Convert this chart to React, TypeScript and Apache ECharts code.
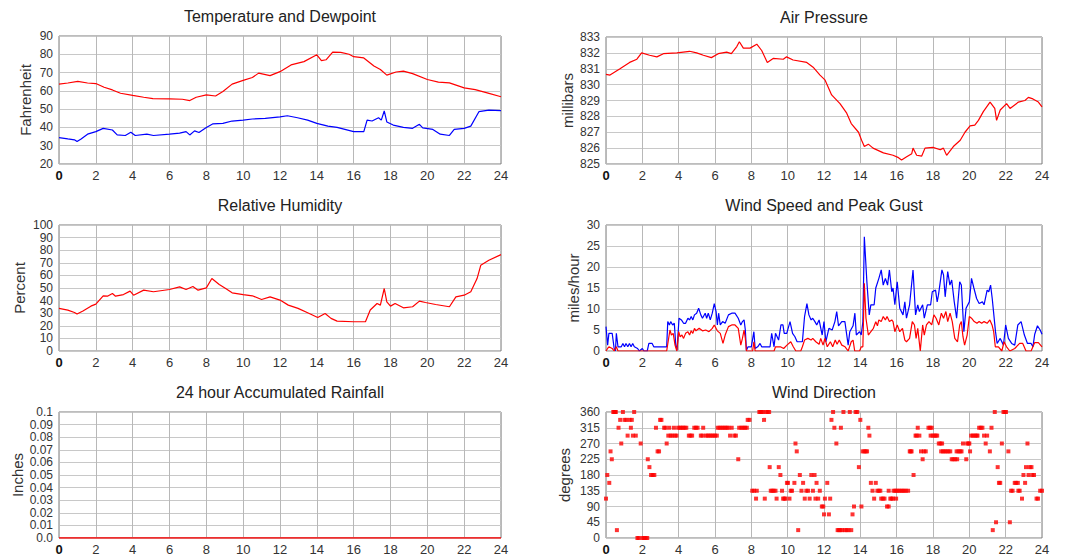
import React, { useEffect, useRef } from "react";
import * as echarts from "echarts";

// ---------- Data (hours since midnight) ----------
const tempHours = [0,0.48,1.02,1.55,2,2.45,2.9,3.34,4,4.6,5.1,6,6.7,7.1,7.45,8,8.5,8.9,9.4,10,10.5,10.84,11.46,12,12.6,13.3,14,14.25,14.5,14.86,15.3,15.75,16,16.55,17.1,17.45,17.8,18.3,18.7,19.2,20,20.6,21.2,22,22.6,23.3,24];
const tempF = [63.7,64.3,65.2,64.3,64,62,60.5,58.7,57.5,56.5,55.8,55.6,55.4,54.7,56.5,57.8,57.2,59.6,63.7,65.7,67.3,69.7,68.3,70.5,74.2,76,79.7,76.5,77,81.2,81,80,78.7,78,73.6,71.7,68.6,70.3,70.8,69.4,66.2,64.8,64.4,61.6,60.7,58.8,56.8];

const dewHours = [0,0.48,0.84,0.98,1.2,1.55,2,2.4,2.9,3.16,3.6,3.9,4.14,4.77,5.13,6,6.55,6.9,7.1,7.36,7.6,8,8.34,8.9,9.4,10,10.5,11.2,12,12.4,12.95,13.5,14,14.6,15.1,16,16.55,16.73,17,17.35,17.5,17.66,17.8,18.15,18.7,19.2,19.57,19.75,20.3,20.7,21.2,21.46,22,22.36,22.8,23.34,24];
const dewF = [34.4,33.7,33.2,32.3,33.7,36.3,37.7,39.5,38.6,35.9,35.6,37.4,35.6,36.3,35.6,36.3,36.9,37.7,35.9,38.1,37.2,40,41.9,42.2,43.5,44,44.6,44.9,45.8,46.4,45.3,44,42.2,40.7,40,37.7,37.7,44,43.5,45.3,44,49,43,41.3,40,39.5,41.7,39.8,38.9,36.3,35.6,38.9,39.5,40.7,48.6,49.5,49.2];

const pressHours = [0,0.22,0.77,1.3,1.7,1.96,2.4,2.8,3.16,3.9,4.6,4.99,5.36,5.8,6.18,6.64,6.9,7.2,7.34,7.56,7.93,8.3,8.57,8.88,9.2,9.76,9.94,10.3,11.05,11.4,11.78,12.05,12.42,12.88,13.25,13.5,13.9,14.07,14.22,14.44,14.7,15.27,15.8,16.1,16.27,16.55,16.83,16.9,17.1,17.38,17.56,18,18.4,18.57,18.75,19.12,19.5,19.76,20.04,20.3,20.5,20.77,21.14,21.4,21.5,21.7,22.05,22.24,22.7,23.06,23.25,23.5,23.8,24];
const pressMb = [830.65,830.6,831,831.4,831.6,832,831.85,831.75,831.95,832,832.1,832,831.85,831.7,831.95,832.05,831.95,832.4,832.7,832.3,832.3,832.55,832.15,831.4,831.65,831.6,831.75,831.55,831.4,831.1,830.6,830.3,829.35,828.8,828.2,827.55,827,826.5,826.1,826.25,826,825.7,825.55,825.4,825.25,825.45,825.65,826,825.55,825.5,826,826.05,825.9,826,825.55,826.1,826.5,827,827.4,827.45,827.75,828.3,828.9,828.5,827.75,828.4,828.8,828.5,828.9,829,829.2,829.1,828.9,828.6];

const rhHours = [0,0.48,0.84,0.98,1.3,1.73,2,2.4,2.63,2.9,3.07,3.5,3.86,4.05,4.6,5.13,6,6.55,6.9,7.27,7.55,8,8.3,8.7,9.05,9.4,10,10.5,11,11.46,12,12.45,12.98,13.5,14.05,14.45,14.77,15.1,16,16.64,16.9,17.27,17.45,17.66,17.8,18,18.25,18.7,19.2,19.57,19.9,20.45,21.2,21.55,22,22.36,22.7,22.9,23.34,24];
const rhPct = [33.8,32.4,30.6,29.3,31.7,35.6,37.2,43.8,43.5,45.6,43.5,44.8,47.5,44.3,48.3,47,48.8,50.9,48.8,51.2,48.3,50.1,57.5,52.8,49.6,46.2,44.8,43.8,40.9,43,40.4,36.4,33.8,30.3,26.6,29.8,25.9,23.7,23.2,23.2,32.5,37.7,36.4,49.6,39,35.6,37.7,34.3,35.1,39.6,38.5,36.9,35.1,43,44.3,47,57.5,68,72,76.5];

// [hour, mph]
const gustMph = [[0,5.8],[0.09,1.4],[0.16,4.2],[0.34,4.2],[0.45,0.6],[0.52,0],[0.57,4.2],[0.66,1],[0.84,1],[0.93,1.8],[1.02,1],[1.1,1.8],[1.2,1],[1.29,1.8],[1.38,1],[1.47,1.8],[1.56,1],[1.74,0.6],[1.83,0],[2,0.6],[2.09,0],[2.27,0],[2.36,1.8],[2.54,1.8],[2.63,1],[3.34,1],[3.4,7],[3.49,6.2],[3.56,7],[3.67,6.2],[3.76,6.6],[3.84,1.4],[3.91,0.2],[4.02,7.8],[4.15,7.4],[4.27,6.6],[4.38,6.6],[4.51,7.8],[4.6,7.4],[4.69,8.2],[4.78,7.4],[4.87,8.6],[4.99,9],[5.1,10.2],[5.22,8.6],[5.31,7.8],[5.46,9],[5.54,7.8],[5.63,9],[5.74,7.4],[5.85,9],[5.96,11.3],[6.06,9.4],[6.13,6.2],[6.2,9],[6.29,6.2],[6.42,7],[6.56,6.6],[6.74,8.6],[6.92,9],[7.1,9],[7.28,7.8],[7.42,6.2],[7.51,7],[7.6,7.4],[7.67,5],[7.73,0.2],[7.82,1],[8,1],[8.14,4.6],[8.21,0.6],[8.35,1],[8.48,1.8],[8.57,1],[9.03,1],[9.12,4.2],[9.25,1],[9.33,4.2],[9.42,3.4],[9.5,2.6],[9.63,6.2],[9.74,6.2],[9.81,4.2],[9.95,4.2],[10.13,7],[10.27,4.2],[10.4,3.4],[10.52,2.2],[10.81,2.2],[10.93,8.2],[11.06,11.3],[11.17,8.6],[11.29,7.4],[11.38,7.8],[11.5,7],[11.6,6.2],[11.73,7.4],[11.9,3.8],[12,7],[12.1,2.2],[12.27,5.4],[12.45,5],[12.6,7],[12.7,9.4],[12.8,6],[12.98,7],[13.15,7],[13.33,1.4],[13.42,4.6],[13.6,6],[13.7,9],[13.78,3.8],[13.96,4.6],[14.05,3.8],[14.14,7],[14.22,27.2],[14.36,16.5],[14.49,8.6],[14.58,11],[14.76,11],[14.85,15],[15.02,17.3],[15.15,19.3],[15.26,15.7],[15.38,17.3],[15.5,15.7],[15.6,19.3],[15.73,14.1],[15.8,15],[15.9,11],[16.03,16.5],[16.17,10.2],[16.35,8.6],[16.45,11.7],[16.54,7.8],[16.71,11],[16.9,19.3],[17.04,8.6],[17.16,11],[17.25,9.4],[17.43,11],[17.52,7.8],[17.69,11],[17.87,11],[17.96,14.1],[18.14,14.5],[18.23,11.7],[18.3,13.3],[18.49,19.3],[18.58,18.1],[18.67,12.9],[18.81,18.9],[18.93,15.7],[19.03,16.9],[19.17,11.7],[19.3,7.8],[19.47,16.5],[19.56,15.7],[19.7,4.6],[19.82,10.2],[20,11.7],[20.12,17.3],[20.25,15],[20.4,12.5],[20.54,11.3],[20.72,11.7],[20.81,11],[20.98,14.5],[21.07,14.1],[21.17,15.7],[21.26,12.5],[21.44,4.6],[21.53,1.8],[21.7,3],[21.88,1.4],[22,6.2],[22.15,3],[22.33,1.8],[22.5,1.4],[22.67,6.2],[22.85,7],[23.03,3.8],[23.2,1.8],[23.4,1.8],[23.5,1],[23.6,4],[23.75,6],[23.9,5],[24,4]];

const windMph = [[0,0],[0.09,0.6],[0.16,1],[0.34,0.6],[0.45,0],[0.57,1],[0.66,0],[3.34,0],[3.52,5],[3.6,3.8],[3.7,4.2],[3.8,1.4],[3.9,0],[4,4.6],[4.08,3.4],[4.18,3.8],[4.27,3],[4.38,4.2],[4.51,4.6],[4.6,3.8],[4.69,4.8],[4.78,4.2],[4.87,5.4],[4.95,4.8],[5.13,5.4],[5.31,4.8],[5.49,5],[5.67,4.6],[5.85,5.4],[5.96,6.2],[6.13,4.8],[6.29,4.2],[6.44,1.8],[6.56,3.8],[6.74,5.8],[6.92,6.2],[7.1,6.2],[7.28,5.4],[7.42,1.4],[7.51,3],[7.6,5],[7.67,3],[7.73,0],[8.07,0],[8.14,2.2],[8.21,0],[9.25,0],[9.33,1],[9.6,1],[9.78,0.6],[9.96,1.4],[10.17,2.2],[10.31,1],[10.45,0],[10.72,0],[10.81,1],[10.93,2.6],[11.11,3],[11.29,2.6],[11.38,3],[11.55,2.2],[11.73,1.6],[11.82,3],[11.95,1.4],[12.05,3],[12.18,1],[12.35,2.2],[12.48,1],[12.62,2.6],[12.72,1.6],[12.84,2.6],[12.98,1.4],[13.16,1],[13.33,0],[13.5,2.2],[13.6,2.6],[13.69,0],[13.96,0],[14.05,1],[14.14,1],[14.22,16.1],[14.31,7.8],[14.44,3.8],[14.58,4.6],[14.72,5.4],[14.85,7],[14.94,6],[15.02,7.4],[15.15,7],[15.26,8.2],[15.38,7.4],[15.47,8.2],[15.6,7],[15.73,7.4],[15.8,7],[15.9,4.6],[16.03,6.2],[16.17,4.6],[16.32,5.4],[16.45,2.6],[16.54,2.2],[16.71,3],[16.86,7],[16.98,6.2],[17.07,3],[17.16,5.4],[17.3,0],[17.43,6.2],[17.52,3.8],[17.64,6.2],[17.78,7],[17.93,6.2],[18.05,8.6],[18.17,7.8],[18.32,6.2],[18.46,9],[18.58,7.8],[18.71,9.4],[18.81,7],[18.94,9],[19.06,7],[19.2,3],[19.35,2.2],[19.47,6.2],[19.56,7],[19.65,3.4],[19.74,1.4],[19.88,3.8],[20,8.2],[20.12,7.8],[20.27,7],[20.42,6.6],[20.54,7],[20.68,6.6],[20.81,7],[20.98,6.6],[21.13,7.4],[21.25,6.2],[21.34,4.6],[21.43,1],[21.6,1],[21.79,0],[21.91,2.2],[22.05,1],[22.23,0],[22.5,0.6],[22.77,1.8],[22.94,1.8],[23.12,0],[23.4,0],[23.6,2],[23.8,2],[24,1]];

const rainHours = [0, 24];
const rainInches = [0, 0];

// [hour, degrees]
const windDir = [[0,112.5],[0.07,180],[0.18,157.5],[0.25,247.5],[0.32,225],[0.4,360],[0.45,360],[0.5,360],[0.54,360],[0.6,22.5],[0.69,315],[0.78,337.5],[0.84,270],[0.93,360],[1.02,337.5],[1.12,337.5],[1.19,292.5],[1.3,337.5],[1.37,315],[1.42,337.5],[1.48,292.5],[1.55,360],[1.64,292.5],[1.73,0],[1.8,0],[1.91,270],[2,0],[2.09,0],[2.18,0],[2.27,0],[2.3,225],[2.39,202.5],[2.48,180],[2.57,180],[2.66,180],[2.75,315],[2.84,247.5],[2.92,247.5],[2.98,337.5],[3.05,337.5],[3.2,315],[3.27,315],[3.34,270],[3.43,292.5],[3.48,315],[3.56,292.5],[3.65,292.5],[3.74,315],[3.8,292.5],[3.88,292.5],[3.97,315],[4.06,315],[4.15,315],[4.24,315],[4.33,315],[4.42,315],[4.56,292.5],[4.65,292.5],[4.74,292.5],[4.86,315],[4.95,315],[5.04,315],[5.22,292.5],[5.31,292.5],[5.35,315],[5.5,292.5],[5.6,292.5],[5.7,292.5],[5.8,292.5],[5.9,292.5],[6,292.5],[6.1,292.5],[6.15,315],[6.25,315],[6.35,315],[6.45,315],[6.55,315],[6.65,315],[6.74,315],[6.83,292.5],[6.92,315],[7.06,292.5],[7.15,292.5],[7.28,225],[7.33,315],[7.45,315],[7.55,315],[7.65,315],[7.75,315],[7.8,337.5],[7.9,337.5],[8.05,135],[8.15,135],[8.26,112.5],[8.3,135],[8.44,360],[8.5,360],[8.56,360],[8.62,360],[8.7,337.5],[8.74,112.5],[8.8,360],[8.9,360],[8.98,360],[9.01,202.5],[9.07,135],[9.15,135],[9.23,135],[9.33,135],[9.39,112.5],[9.51,202.5],[9.6,180],[9.69,135],[9.75,112.5],[9.82,112.5],[9.87,112.5],[9.96,157.5],[10.02,157.5],[10.1,112.5],[10.17,135],[10.24,135],[10.37,157.5],[10.43,270],[10.5,247.5],[10.58,22.5],[10.67,180],[10.76,135],[10.85,157.5],[10.94,112.5],[11.03,135],[11.12,135],[11.21,112.5],[11.3,180],[11.39,135],[11.48,180],[11.53,112.5],[11.59,157.5],[11.68,112.5],[11.77,135],[11.88,90],[11.96,90],[12,67.5],[12.05,112.5],[12.18,157.5],[12.27,67.5],[12.34,112.5],[12.41,337.5],[12.5,360],[12.57,315],[12.68,270],[12.75,22.5],[12.82,22.5],[12.9,22.5],[12.93,315],[13,22.5],[13.07,360],[13.15,22.5],[13.25,22.5],[13.35,22.5],[13.42,360],[13.5,22.5],[13.57,67.5],[13.65,90],[13.74,360],[13.83,360],[13.92,202.5],[14,337.5],[14.06,90],[14.13,247.5],[14.22,247.5],[14.3,247.5],[14.37,247.5],[14.44,315],[14.5,292.5],[14.58,157.5],[14.67,135],[14.76,112.5],[14.85,157.5],[14.94,135],[15.02,135],[15.1,135],[15.15,112.5],[15.24,112.5],[15.33,112.5],[15.47,90],[15.56,90],[15.56,135],[15.65,112.5],[15.72,112.5],[15.8,112.5],[15.83,135],[15.92,135],[15.97,112.5],[16,135],[16.1,135],[16.2,135],[16.3,135],[16.4,135],[16.5,135],[16.63,135],[16.72,247.5],[16.77,247.5],[16.82,247.5],[16.93,180],[17.04,292.5],[17.1,292.5],[17.16,315],[17.25,292.5],[17.34,247.5],[17.43,225],[17.5,247.5],[17.6,247.5],[17.75,315],[17.84,315],[17.93,315],[17.87,292.5],[17.98,292.5],[18.08,292.5],[18.15,292.5],[18.23,292.5],[18.32,270],[18.41,270],[18.5,270],[18.45,247.5],[18.55,247.5],[18.65,247.5],[18.75,247.5],[18.85,247.5],[18.95,247.5],[19.03,225],[19.12,225],[19.22,225],[19.33,225],[19.3,247.5],[19.4,247.5],[19.5,247.5],[19.57,247.5],[19.65,270],[19.83,225],[19.88,270],[19.95,270],[20,270],[20.04,247.5],[20.1,292.5],[20.2,292.5],[20.3,292.5],[20.4,292.5],[20.45,292.5],[20.54,315],[20.63,315],[20.72,315],[20.81,292.5],[20.9,270],[20.98,292.5],[21.13,247.5],[21.22,315],[21.29,22.5],[21.4,360],[21.47,45],[21.56,202.5],[21.63,157.5],[21.7,157.5],[21.79,270],[21.88,360],[21.95,360],[22.02,360],[22.15,247.5],[22.23,45],[22.3,135],[22.38,135],[22.5,157.5],[22.58,157.5],[22.67,157.5],[22.7,135],[22.77,135],[22.9,112.5],[22.98,180],[23.07,157.5],[23.12,202.5],[23.2,270],[23.26,180],[23.33,202.5],[23.42,202.5],[23.47,180],[23.56,180],[23.7,112.5],[23.78,112.5],[23.9,135],[24,135]];

// ---------- Panel definitions ----------
const titles = ["Temperature and Dewpoint", "Air Pressure", "Relative Humidity", "Wind Speed and Peak Gust", "24 hour Accumulated Rainfall", "Wind Direction"];
const yNames = ["Fahrenheit", "millibars", "Percent", "miles/hour", "Inches", "degrees"];
const yMin = [20, 825, 0, 0, 0, 0];
const yMax = [90, 833, 100, 30, 0.1, 360];
const yStep = [10, 1, 10, 5, 0.01, 45];

const FONT = '"Liberation Sans", Arial, Helvetica, sans-serif';
const TEXT = "#333";
const RED = "#ff0000";
const BLUE = "#0000ff";

const panels = [
  { left: 59, top: 36, width: 442, height: 128 },
  { left: 606, top: 37, width: 436, height: 127 },
  { left: 59, top: 225, width: 442, height: 126 },
  { left: 606, top: 225, width: 436, height: 126 },
  { left: 59, top: 412, width: 442, height: 126 },
  { left: 606, top: 412, width: 436, height: 126 },
];
const nameGaps = [26, 31, 32, 25, 34, 34];

const zip = (xs: number[], ys: number[]) => xs.map((x, i) => [x, ys[i]]);

function buildOption() {
  const grid = panels.map((p) => ({
    ...p,
    show: true,
    borderColor: "#7a7a7a",
    borderWidth: 1,
    backgroundColor: "#ffffff",
  }));
  const xAxis = panels.map((_, i) => ({
    type: "value",
    gridIndex: i,
    min: 0,
    max: 24,
    interval: 2,
    axisLine: { show: false },
    axisTick: { show: false },
    splitLine: { show: true, lineStyle: { color: "#b8b8b8", width: 1 } },
    axisLabel: {
      color: TEXT,
      fontSize: 13,
      fontFamily: FONT,
      margin: 5,
      hideOverlap: false,
      showMinLabel: true,
      showMaxLabel: true,
      formatter: (v: number) => (v === 0 ? "{b|0}" : String(v)),
      rich: { b: { fontWeight: "bold", fontSize: 13, color: "#111", fontFamily: FONT } },
    },
  }));
  const yAxis = panels.map((_, i) => ({
    type: "value",
    gridIndex: i,
    min: yMin[i],
    max: yMax[i],
    interval: yStep[i],
    name: yNames[i],
    nameLocation: "middle",
    nameRotate: 90,
    nameGap: nameGaps[i],
    nameTextStyle: { color: TEXT, fontSize: 15, fontFamily: FONT },
    axisLine: { show: false },
    axisTick: { show: false },
    splitLine: { show: true, lineStyle: { color: "#c8c8c8", width: 1 } },
    axisLabel: {
      color: TEXT,
      fontSize: 12,
      lineHeight: 12,
      fontFamily: FONT,
      margin: 6,
      hideOverlap: false,
      showMinLabel: true,
      showMaxLabel: true,
      formatter: (v: number) => {
        if (i === 4) return v === 0 ? "0.0" : String(parseFloat(v.toFixed(2)));
        return String(Math.round(v));
      },
    },
  }));
  const line = (name: string, idx: number, data: number[][], color: string) => ({
    name,
    type: "line",
    xAxisIndex: idx,
    yAxisIndex: idx,
    data,
    showSymbol: false,
    symbol: "none",
    lineStyle: { color, width: 1.2 },
    itemStyle: { color },
  });
  const series: any[] = [
    line("Temperature", 0, zip(tempHours, tempF), RED),
    line("Dewpoint", 0, zip(dewHours, dewF), BLUE),
    line("Air Pressure", 1, zip(pressHours, pressMb), RED),
    line("Relative Humidity", 2, zip(rhHours, rhPct), RED),
    line("Peak Gust", 3, gustMph, BLUE),
    line("Wind Speed", 3, windMph, RED),
    { ...line("Rainfall", 4, zip(rainHours, rainInches), RED), lineStyle: { color: RED, width: 1.6 } },
    {
      name: "Wind Direction",
      type: "scatter",
      xAxisIndex: 5,
      yAxisIndex: 5,
      data: windDir,
      symbol: "rect",
      symbolSize: 4,
      itemStyle: { color: RED },
    },
  ];
  const graphic = panels.map((p, i) => ({
    type: "text",
    x: p.left + p.width / 2,
    y: p.top - 20,
    style: {
      text: titles[i],
      fill: "#222",
      fontSize: 16,
      fontFamily: FONT,
      align: "center",
      verticalAlign: "middle",
    },
  }));
  return { animation: false, backgroundColor: "#ffffff", grid, xAxis, yAxis, series, graphic };
}

export default function App() {
  const ref = useRef<HTMLDivElement>(null);
  useEffect(() => {
    document.body.style.margin = "0";
    const chart = echarts.init(ref.current!, null, { renderer: "svg" });
    chart.setOption(buildOption() as any);
    return () => chart.dispose();
  }, []);
  return <div ref={ref} style={{ width: 1065, height: 558 }} />;
}
